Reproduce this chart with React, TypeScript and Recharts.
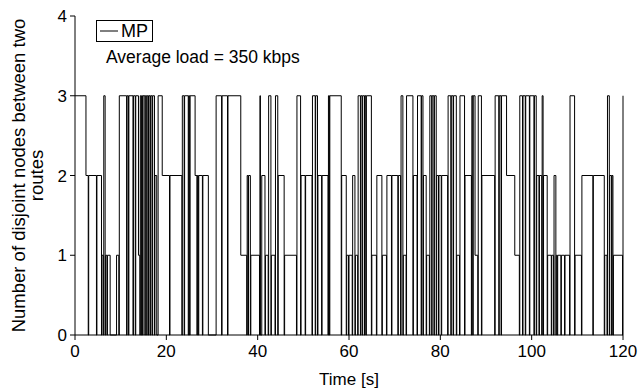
import React from 'react';
import { LineChart, Line, XAxis, YAxis, Legend, Label } from 'recharts';

// time [s] at which the number of disjoint nodes changes
const times = [
  0, 2.4, 2.9, 3.0, 4.7, 4.8, 5.8, 5.9, 6.2, 6.3, 6.6, 6.7, 7.0, 7.1, 7.7, 9.1, 9.6, 9.7,
  11.3, 11.4, 11.7, 11.8, 12.7, 12.8, 13.2, 13.3, 13.9, 14.2, 14.3, 14.5, 14.6, 14.8, 14.9,
  15.3, 15.4, 15.7, 15.8, 16.1, 16.2, 16.5, 16.6, 16.9, 17.0, 17.4, 17.5, 17.9, 18.2, 19.1,
  20.7, 20.8, 23.4, 23.5, 23.9, 24.0, 24.8, 24.9, 25.1, 25.2, 26.3, 26.7, 26.8, 27.0, 27.1,
  27.9, 28.0, 29.2, 30.9, 32.1, 32.2, 33.4, 33.5, 36.3, 37.6, 37.7, 37.9, 38.0, 38.4, 38.5,
  40.4, 40.5, 40.6, 40.9, 41.6, 41.7, 42.3, 42.4, 42.9, 43.0, 43.8, 43.9, 44.4, 44.5, 45.8,
  45.9, 48.5, 48.6, 49.4, 49.5, 50.4, 50.5, 51.9, 52.0, 52.6, 52.7, 53.1, 53.2, 54.0, 54.1,
  55.4, 55.5, 55.7, 55.8, 58.3, 58.4, 59.4, 59.5, 59.9, 60.0, 60.7, 60.8, 61.3, 61.4, 61.9,
  62.0, 62.5, 62.6, 62.9, 63.0, 63.4, 63.5, 63.7, 63.8, 64.9, 65.0, 66.0, 66.1, 67.2, 67.3,
  68.2, 68.3, 69.3, 69.4, 70.7, 70.8, 71.3, 71.4, 71.8, 71.9, 72.5, 72.6, 74.0, 74.1, 74.9,
  75.0, 75.8, 75.9, 76.2, 76.3, 76.9, 77.0, 77.6, 77.7, 78.1, 78.2, 78.6, 78.7, 79.1, 79.2,
  79.6, 79.7, 80.2, 80.3, 81.6, 81.7, 82.3, 82.4, 82.8, 82.9, 83.5, 83.6, 84.2, 84.3, 85.3,
  85.4, 86.8, 86.9, 87.1, 87.2, 87.6, 88.2, 88.3, 89.0, 89.1, 91.9, 92.0, 92.8, 92.9, 93.3,
  93.4, 94.5, 96.3, 97.3, 97.4, 98.0, 98.1, 98.6, 98.7, 99.5, 99.6, 100.5, 100.6, 101.0,
  101.1, 101.6, 101.7, 102.2, 102.3, 102.5, 102.6, 103.4, 103.5, 104.3, 104.4, 104.8, 104.9,
  105.3, 105.4, 105.6, 105.7, 106.4, 106.5, 107.2, 107.3, 108.3, 108.4, 109.4, 109.5, 110.9,
  111.0, 113.4, 113.5, 115.9, 116.0, 116.5, 116.6, 117.0, 117.1, 117.5, 117.6, 117.8, 117.9,
  119.9, 120.0,
];

// number of disjoint nodes between two routes (MP) from each time on
const nodes = [
  3, 2, 0, 2, 0, 2, 0, 1, 0, 3, 0, 1, 0, 1, 0, 1, 0, 3,
  0, 3, 0, 3, 0, 3, 0, 3, 1, 0, 3, 0, 3, 0, 3,
  0, 3, 0, 3, 0, 3, 0, 3, 0, 3, 0, 2, 0, 3, 2,
  0, 2, 0, 3, 0, 3, 0, 3, 0, 3, 2, 0, 2, 0, 2,
  0, 2, 0, 3, 0, 3, 0, 3, 1, 0, 2, 0, 2, 0, 1,
  0, 3, 0, 2, 0, 1, 0, 3, 0, 1, 0, 3, 0, 2, 0,
  1, 0, 3, 0, 2, 0, 2, 0, 3, 0, 3, 0, 2, 0, 2,
  0, 3, 0, 3, 0, 2, 0, 1, 0, 1, 0, 2, 0, 1, 0,
  3, 0, 3, 0, 3, 0, 3, 0, 3, 0, 1, 0, 2, 0, 1,
  0, 2, 0, 2, 0, 2, 0, 3, 0, 1, 0, 3, 0, 2, 0,
  3, 0, 3, 0, 2, 0, 1, 0, 3, 0, 3, 0, 3, 0, 2,
  0, 2, 0, 2, 0, 3, 0, 3, 0, 3, 0, 1, 0, 3, 0,
  2, 0, 3, 0, 3, 1, 0, 3, 0, 2, 0, 3, 0, 3, 0,
  3, 2, 1, 0, 3, 0, 3, 0, 3, 0, 3, 0, 3, 0,
  2, 0, 2, 0, 3, 0, 2, 0, 1, 0, 1, 0, 2,
  0, 1, 0, 1, 0, 1, 0, 1, 0, 3, 0, 1, 0,
  2, 0, 2, 0, 1, 0, 3, 0, 2, 0, 2, 0, 1,
  0, 3,
];

const xTicks = [0, 20, 40, 60, 80, 100, 120];
const yTicks = [0, 1, 2, 3, 4];
const seriesName = 'MP';
const annotation = 'Average load = 350 kbps';
const xTitle = 'Time [s]';
const yTitleLines = ['Number of disjoint nodes between two', 'routes'];

const data = times.map((t, i) => ({ t, v: nodes[i] }));

const FONT = '"Liberation Sans", Arial, sans-serif';

const YTitle = (props: any) => {
  const vb = props.viewBox || {};
  const cy = vb.y + vb.height / 2;
  return (
    <g>
      {yTitleLines.map((line, i) => (
        <text
          key={i}
          x={0}
          y={0}
          transform={`translate(${18 + i * 18}, ${cy}) rotate(-90)`}
          textAnchor="middle"
          dominantBaseline="central"
          fontSize={18.5}
          fontFamily={FONT}
          fill="#000"
        >
          {line}
        </text>
      ))}
    </g>
  );
};

const LegendBox = () => (
  <div style={{ fontFamily: FONT, fontSize: 18, color: '#000' }}>
    <div
      style={{
        display: 'inline-flex',
        alignItems: 'center',
        border: '1px solid #000',
        padding: '0px 4px 0px 3px',
        height: 20,
        background: '#fff',
        lineHeight: '20px',
      }}
    >
      <svg width={18} height={10} style={{ marginRight: 3 }}>
        <line x1={0} y1={5} x2={18} y2={5} stroke="#000" strokeWidth={1} />
      </svg>
      <span>{seriesName}</span>
    </div>
    <div style={{ marginTop: 5, marginLeft: 10, whiteSpace: 'nowrap', fontSize: 17.5 }}>{annotation}</div>
  </div>
);

export default function App() {
  return (
    <div style={{ position: 'absolute', left: 0, top: 0, width: 639, height: 390, background: '#fff' }}>
      <LineChart width={639} height={390} data={data} margin={{ top: 16, right: 16, left: 0, bottom: 0 }}>
        <XAxis
          dataKey="t"
          type="number"
          domain={[0, 120]}
          ticks={xTicks}
          height={55}
          tickSize={5}
          tickMargin={5}
          stroke="#000"
          tick={{ fill: '#000', fontSize: 17, fontFamily: FONT }}
          axisLine={{ stroke: '#000' }}
          tickLine={{ stroke: '#000' }}
        >
          <Label value={xTitle} position="insideBottom" offset={5} fill="#000" fontSize={17} fontFamily={FONT} />
        </XAxis>
        <YAxis
          type="number"
          domain={[0, 4]}
          ticks={yTicks}
          width={75}
          tickSize={5}
          tickMargin={3}
          stroke="#000"
          tick={{ fill: '#000', fontSize: 17, fontFamily: FONT }}
          axisLine={{ stroke: '#000' }}
          tickLine={{ stroke: '#000' }}
          label={<YTitle />}
        />
        <Legend
          layout="vertical"
          align="center"
          verticalAlign="middle"
          wrapperStyle={{ left: 96, top: 20, width: 'auto' }}
          content={<LegendBox />}
        />
        <Line
          type="stepAfter"
          dataKey="v"
          name={seriesName}
          stroke="#000"
          strokeWidth={1}
          dot={false}
          isAnimationActive={false}
        />
      </LineChart>
    </div>
  );
}
